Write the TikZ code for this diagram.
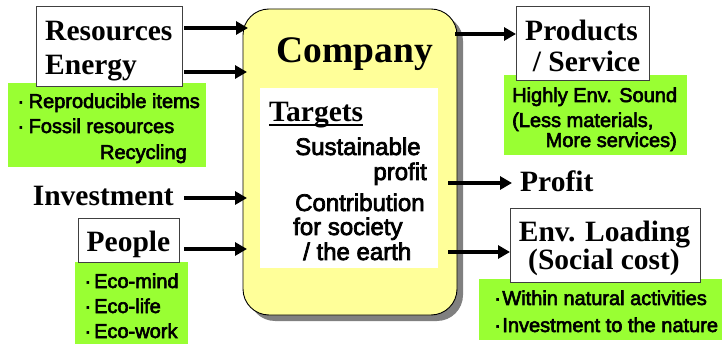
\documentclass[tikz,border=0pt]{standalone}
\usepackage{fontspec}
\setmainfont{Liberation Serif}
\newfontfamily\gsans[FakeBold=3]{Liberation Sans}
\usetikzlibrary{arrows.meta,shadows,calc}
\definecolor{cyel}{HTML}{FFFF99}
\definecolor{cgrn}{HTML}{99FF33}
\begin{document}
\begin{tikzpicture}[x=1pt,y=-1pt,
  lbl/.style={font=\fontsize{29.5}{34}\selectfont\bfseries, inner sep=0pt},
  gtxt/.style={font=\gsans\fontsize{20}{24}\selectfont, inner sep=0pt},
  ttxt/.style={font=\gsans\fontsize{24}{25}\selectfont, inner sep=0pt},
  wbox/.style={draw=black!75, line width=1pt, fill=white, inner sep=0pt, outer sep=0pt, anchor=north west},
  arr/.style={line width=4pt, -{Triangle[length=12pt,width=13pt]}}]
\useasboundingbox (0,0) rectangle (722,344);

% company
\node[draw, line width=0.9pt, fill=cyel, rounded corners=26pt, minimum width=214pt, minimum height=306pt,
  anchor=north west, inner sep=0pt, outer sep=0pt,
  drop shadow={shadow xshift=6pt, shadow yshift=-6pt, fill=black!50, opacity=1}] (company) at (243,9) {};
\node[fill=white, minimum width=178pt, minimum height=180pt, anchor=north west, inner sep=0pt, outer sep=0pt] (tbox) at (260,88) {};
\node[font=\fontsize{37.5}{40}\selectfont\bfseries, inner sep=0pt, anchor=base] (comp) at (355,63) {Company};
\node[font=\fontsize{29.5}{30}\selectfont\bfseries, inner sep=0pt, anchor=base west] (targ) at (269,122) {Targets};
\draw[line width=1.2pt] (targ.base west) ++(0,3) -- ($(targ.base east)+(0,3)$);
\node[ttxt, anchor=base west] (t1) at (295,155) {Sustainable};
\node[ttxt, anchor=base east] (t2) at (427,180) {profit};
\node[ttxt, anchor=base west] (t3) at (295,211) {Contribution};
\node[ttxt, anchor=base west] (t4) at (293,235) {for society};
\node[ttxt, anchor=base west] (t5) at (303,260) {/ the earth};

% green boxes
\fill[cgrn] (8,83) rectangle (206,167);
\fill[cgrn] (75,262) rectangle (188,344);
\fill[cgrn] (504,75) rectangle (687,155);
\fill[cgrn] (479,279) rectangle (722,340);

% white boxes
\node[wbox, minimum width=146pt, minimum height=80pt] (resbox) at (36,7) {};
\node[wbox, minimum width=101pt, minimum height=44pt] (pplbox) at (78,219) {};
\node[wbox, minimum width=133pt, minimum height=74pt] (prodbox) at (516,7) {};
\node[wbox, minimum width=190pt, minimum height=74pt] (envbox) at (510,209) {};

% left texts
\node[lbl, anchor=base west] (tres) at (45,41) {Resources};
\node[lbl, anchor=base west] (tene) at (45,75) {Energy};
\node[gtxt, anchor=base west] (g1a) at (17.3,108) {·\hspace{4.5pt}Reproducible items};
\node[gtxt, anchor=base west] (g1b) at (17.3,133) {·\hspace{4.5pt}Fossil resources};
\node[gtxt, anchor=base east] (g1c) at (187,159) {Recycling};
\node[lbl, anchor=base east] (tinv) at (174,206) {Investment};
\node[lbl, anchor=base] (tppl) at (128.5,252) {People};
\node[gtxt, anchor=base west] (g2a) at (84.3,288) {·\hspace{3pt}Eco-mind};
\node[gtxt, anchor=base west] (g2b) at (84.3,313) {·\hspace{3pt}Eco-life};
\node[gtxt, anchor=base west] (g2c) at (84.3,338) {·\hspace{3pt}Eco-work};

% right texts
\node[lbl, anchor=base] (tprod) at (581.5,41) {Products};
\node[lbl, anchor=base] (tserv) at (586.5,72) {/ Service};
\node[gtxt, anchor=base west] (g3a) at (512,102) {Highly Env. Sound};
\node[gtxt, anchor=base west] (g3b) at (512,127) {(Less materials,};
\node[gtxt, anchor=base east] (g3c) at (677,147) {More services)};
\node[lbl, anchor=base west] (tprofit) at (520,192) {Profit};
\node[lbl, anchor=base] (tenv) at (604.5,242) {Env. Loading};
\node[lbl, anchor=base] (tsoc) at (604,270) {(Social cost)};
\node[gtxt, anchor=base west] (g4a) at (494,305) {·\hspace{1.5pt}Within natural activities};
\node[gtxt, anchor=base west] (g4b) at (494,332) {·\hspace{1.5pt}Investment to the nature};

% arrows in
\draw[arr] ($(resbox.east |- 0,28)+(2,0)$) -- ($(company.west |- 0,28)+(5,0)$);
\draw[arr] ($(resbox.east |- 0,72)+(2,0)$) -- ($(company.west |- 0,72)+(4,0)$);
\draw[arr] ($(tinv.east |- 0,198)+(10,0)$) -- ($(company.west |- 0,198)+(4,0)$);
\draw[arr] ($(pplbox.east |- 0,249)+(5,0)$) -- ($(company.west |- 0,249)+(4,0)$);
% arrows out
\draw[arr] ($(company.east |- 0,34)+(-2,0)$) -- (prodbox.west |- 0,34);
\draw[arr] ($(tbox.east |- 0,183)+(10,0)$) -- ($(tprofit.west |- 0,183)+(-8,0)$);
\draw[arr] ($(tbox.east |- 0,252)+(10,0)$) -- (envbox.west |- 0,252);
\end{tikzpicture}
\end{document}
